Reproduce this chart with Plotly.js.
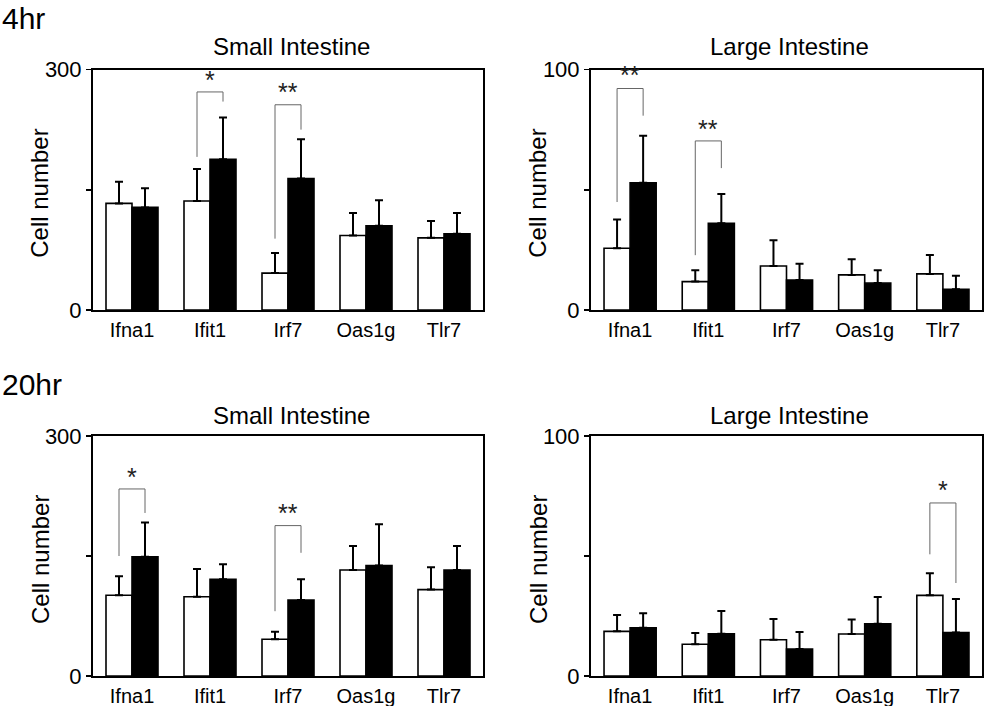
<!DOCTYPE html>
<html>
<head>
<meta charset="utf-8">
<script src="https://cdn.plot.ly/plotly-3.0.1.min.js"></script>
<style>
html,body{margin:0;padding:0;background:#fff;}
#chart{width:984px;height:706px;}
</style>
</head>
<body>
<div id="chart"></div>
<script>
// ---------------- data ----------------
const categories = ['Ifna1', 'Ifit1', 'Irf7', 'Oas1g', 'Tlr7'];

// 4 hr, small intestine (axis 0-300)
const h4SmallWhite    = [133, 136, 46, 93, 90];
const h4SmallWhiteErr = [27, 40, 25, 28, 21];
const h4SmallBlack    = [128, 188, 164, 105, 95];
const h4SmallBlackErr = [24, 52, 49, 32, 26];

// 4 hr, large intestine (axis 0-100)
const h4LargeWhite    = [25.7, 11.8, 18.3, 14.6, 15.0];
const h4LargeWhiteErr = [11.9, 4.7, 10.7, 6.5, 7.9];
const h4LargeBlack    = [52.9, 36.1, 12.5, 11.2, 8.6];
const h4LargeBlackErr = [19.6, 12.1, 6.7, 5.3, 5.6];

// 20 hr, small intestine (axis 0-300)
const h20SmallWhite    = [101, 99, 46, 132.5, 108];
const h20SmallWhiteErr = [23.6, 34.8, 9.4, 30, 27.8];
const h20SmallBlack    = [149, 121, 95, 138, 132.5];
const h20SmallBlackErr = [43, 18.6, 25.8, 51.6, 30];

// 20 hr, large intestine (axis 0-100)
const h20LargeWhite    = [18.6, 13.2, 15.1, 17.5, 33.6];
const h20LargeWhiteErr = [6.8, 4.7, 8.65, 6.0, 9.2];
const h20LargeBlack    = [20.1, 17.6, 11.25, 21.8, 18.1];
const h20LargeBlackErr = [6.0, 9.5, 7.05, 11.1, 14.0];

// significance brackets: category, left foot, top, right foot, label, label height
const h4SmallSig  = [
  {cat: 'Ifit1', left: 191, top: 272, right: 260, label: '*',  labelY: 291},
  {cat: 'Irf7',  left: 89,  top: 256, right: 225, label: '**', labelY: 276}
];
const h4LargeSig  = [
  {cat: 'Ifna1', left: 44.9, top: 92.1, right: 80.8, label: '**', labelY: 98.9},
  {cat: 'Ifit1', left: 22.8, top: 70.3, right: 59.0, label: '**', labelY: 76.7}
];
const h20SmallSig = [
  {cat: 'Ifna1', left: 150, top: 233.8, right: 203.8, label: '*',  labelY: 253},
  {cat: 'Irf7',  left: 81,  top: 188,   right: 154,   label: '**', labelY: 207.5}
];
const h20LargeSig = [
  {cat: 'Tlr7', left: 50.7, top: 72.1, right: 38.75, label: '*', labelY: 78.75}
];

const yMaxSmall = 300;
const yMaxLarge = 100;
const timeLabels = ['4hr', '20hr'];
const panelTitles = ['Small Intestine', 'Large Intestine'];
const yTitle = 'Cell number';

// ---------------- layout helpers ----------------
const W = 984, H = 706;
const FONT = 'Liberation Sans, Arial, Helvetica, sans-serif';
const BARGAP = 1 / 3;
const HALF = (1 - BARGAP) / 4; // offset of each bar centre from the category centre

const xDomLeft  = [93 / W, 483 / W];
const xDomRight = [591 / W, 982 / W];
const yDomTop    = [1 - 310 / H, 1 - 69.5 / H];
const yDomBottom = [1 - 676 / H, 1 - 436 / H];

const panels = [
  {ax: '',  white: h4SmallWhite,  we: h4SmallWhiteErr,  black: h4SmallBlack,  be: h4SmallBlackErr,  sig: h4SmallSig,  ymax: yMaxSmall, xd: xDomLeft,  yd: yDomTop},
  {ax: '2', white: h4LargeWhite,  we: h4LargeWhiteErr,  black: h4LargeBlack,  be: h4LargeBlackErr,  sig: h4LargeSig,  ymax: yMaxLarge, xd: xDomRight, yd: yDomTop},
  {ax: '3', white: h20SmallWhite, we: h20SmallWhiteErr, black: h20SmallBlack, be: h20SmallBlackErr, sig: h20SmallSig, ymax: yMaxSmall, xd: xDomLeft,  yd: yDomBottom},
  {ax: '4', white: h20LargeWhite, we: h20LargeWhiteErr, black: h20LargeBlack, be: h20LargeBlackErr, sig: h20LargeSig, ymax: yMaxLarge, xd: xDomRight, yd: yDomBottom}
];

const idx = categories.map((c, i) => i);
const traces = [];
const layout = {
  width: W, height: H,
  margin: {l: 0, r: 0, t: 0, b: 0},
  paper_bgcolor: '#fff', plot_bgcolor: '#fff',
  showlegend: false,
  barmode: 'group',
  bargap: BARGAP,
  bargroupgap: 0,
  font: {family: FONT, color: '#000'},
  annotations: []
};

panels.forEach((p, k) => {
  const xa = 'x' + p.ax, ya = 'y' + p.ax;
  traces.push({
    type: 'bar', x: idx, y: p.white, xaxis: xa, yaxis: ya,
    marker: {color: '#fff', line: {color: '#000', width: 1.6}},
    error_y: {type: 'data', symmetric: false, array: p.we, arrayminus: p.we.map(() => 0),
              color: '#000', thickness: 2, width: 4},
    hoverinfo: 'skip'
  });
  traces.push({
    type: 'bar', x: idx, y: p.black, xaxis: xa, yaxis: ya,
    marker: {color: '#000', line: {color: '#000', width: 1.6}},
    error_y: {type: 'data', symmetric: false, array: p.be, arrayminus: p.be.map(() => 0),
              color: '#000', thickness: 2, width: 4},
    hoverinfo: 'skip'
  });
  // brackets
  const bx = [], by = [];
  p.sig.forEach(s => {
    const i = categories.indexOf(s.cat);
    bx.push(i - HALF, i - HALF, i + HALF, i + HALF, null);
    by.push(s.left, s.top, s.top, s.right, null);
    layout.annotations.push({
      xref: xa, yref: ya, x: i, y: s.labelY, text: s.label, showarrow: false,
      xanchor: 'center', yanchor: 'middle', yshift: -3,
      font: {size: 25, color: '#222', family: FONT}
    });
  });
  traces.push({
    type: 'scatter', mode: 'lines', x: bx, y: by, xaxis: xa, yaxis: ya,
    line: {color: '#666', width: 1}, hoverinfo: 'skip', cliponaxis: false
  });

  layout['xaxis' + p.ax] = {
    domain: p.xd, anchor: ya, range: [-0.5, categories.length - 0.5],
    tickvals: idx, ticktext: categories, ticks: '', ticklabelstandoff: 1,
    tickfont: {size: 20, family: FONT, color: '#000'},
    showline: true, mirror: true, linecolor: '#000', linewidth: 2,
    showgrid: false, zeroline: false, fixedrange: true
  };
  layout['yaxis' + p.ax] = {
    domain: p.yd, anchor: xa, range: [0, p.ymax],
    tickvals: [0, p.ymax / 2, p.ymax], ticktext: ['0', '', String(p.ymax)],
    ticks: 'outside', ticklen: 5, tickwidth: 1.5, tickcolor: '#000',
    tickfont: {size: 22, family: FONT, color: '#000'},
    showline: true, mirror: true, linecolor: '#000', linewidth: 2,
    showgrid: false, zeroline: false, fixedrange: true
  };

  // y-axis title, placed beside its axis
  layout.annotations.push({
    xref: 'paper', yref: 'paper', x: p.xd[0] - 53 / W, y: (p.yd[0] + p.yd[1]) / 2 - 4 / H,
    text: yTitle, textangle: -90, showarrow: false, xanchor: 'center', yanchor: 'middle',
    font: {size: 24, family: FONT, color: '#000'}
  });

  // panel title
  layout.annotations.push({
    xref: 'paper', yref: 'paper', x: (p.xd[0] + p.xd[1]) / 2 + 3 / W,
    y: (k < 2) ? 1 - 46 / H : 1 - 415 / H,
    text: panelTitles[k % 2], showarrow: false, xanchor: 'center', yanchor: 'middle',
    font: {size: 24, family: FONT, color: '#000'}
  });
});

// time labels
timeLabels.forEach((t, r) => {
  layout.annotations.push({
    xref: 'paper', yref: 'paper', x: 0, y: r === 0 ? 1 - 18 / H : 1 - 384 / H,
    text: t, showarrow: false, xanchor: 'left', yanchor: 'middle',
    font: {size: 30, family: FONT, color: '#000'}
  });
});

Plotly.newPlot('chart', traces, layout, {staticPlot: true, displayModeBar: false});
</script>
</body>
</html>
